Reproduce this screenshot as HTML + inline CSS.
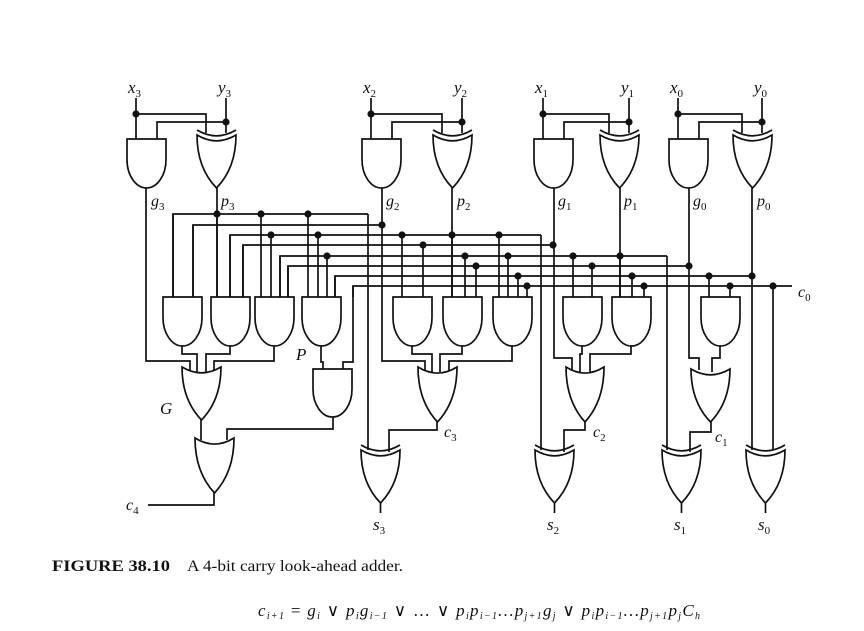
<!DOCTYPE html>
<html><head><meta charset="utf-8"><style>
html,body{margin:0;padding:0;background:#fff;}
svg{display:block;}
text{font-family:"Liberation Serif",serif;fill:#111;}
.it{font-style:italic;}
</style></head><body>
<svg id="c" width="864" height="631" viewBox="0 0 864 631" xmlns="http://www.w3.org/2000/svg">
<g id="wires" fill="none" stroke="#111" stroke-width="1.7"></g>
<g id="gates" fill="#fff" stroke="#111" stroke-width="1.7"></g>
<g id="dots" fill="#111"></g>
<g id="labels"></g>
<text x="52" y="571" font-size="16" font-weight="bold" textLength="118" lengthAdjust="spacingAndGlyphs">FIGURE 38.10</text>
<text x="187" y="571" font-size="16" textLength="216" lengthAdjust="spacingAndGlyphs">A 4-bit carry look-ahead adder.</text>
<text x="258" y="616" font-size="17" class="it" textLength="442" lengthAdjust="spacing">c<tspan font-size="10" dy="3">i+1</tspan><tspan dy="-3" font-style="normal"> = </tspan> g<tspan font-size="10" dy="3">i</tspan><tspan dy="-3" font-style="normal"> ∨ </tspan>p<tspan font-size="10" dy="3">i</tspan><tspan dy="-3">g</tspan><tspan font-size="10" dy="3">i−1</tspan><tspan dy="-3" font-style="normal"> ∨ … ∨ </tspan>p<tspan font-size="10" dy="3">i</tspan><tspan dy="-3">p</tspan><tspan font-size="10" dy="3">i−1</tspan><tspan dy="-3">…p</tspan><tspan font-size="10" dy="3">j+1</tspan><tspan dy="-3">g</tspan><tspan font-size="10" dy="3">j</tspan><tspan dy="-3" font-style="normal"> ∨ </tspan>p<tspan font-size="10" dy="3">i</tspan><tspan dy="-3">p</tspan><tspan font-size="10" dy="3">i−1</tspan><tspan dy="-3">…p</tspan><tspan font-size="10" dy="3">j+1</tspan><tspan dy="-3">p</tspan><tspan font-size="10" dy="3">j</tspan><tspan dy="-3">C</tspan><tspan font-size="10" dy="3">h</tspan></text>
</svg>
<script>
const NS="http://www.w3.org/2000/svg";
const W=document.getElementById('wires'),G=document.getElementById('gates'),D=document.getElementById('dots'),L=document.getElementById('labels');
// bit columns: [andLeft, xorLeft]
const bits=[[127,197],[362,433],[534,600],[669,733]];
const bitNames=['3','2','1','0'];
// bus rows: y, xStart, xEnd, dot x list
const rowY=[214,225,235,245,256,266,276,286];
const rowStart=[173,193,230,243,280,288,335,353];
const rowEnd=[368,382,541,553,667,689,752,792];
const rowDots=[[217,261,308],[382],[271,318,402,452,499],[423,553],[327,465,508,573,620],[476,592,689],[518,632,709,752],[527,644,730,773]];
// second-row AND gates: left x, input drops [x,fromY]
const and2Left=[163,211,255,302,393,443,493,563,612,701];
const and2In=[[[173,214],[193,225]],[[217,214],[230,235],[243,245]],[[261,214],[271,235],[280,256],[288,266]],[[308,214],[318,235],[327,256],[335,276]],[[402,235],[423,245]],[[452,235],[465,256],[476,266]],[[499,235],[508,256],[518,276],[527,286]],[[573,256],[592,266]],[[620,256],[632,276],[644,286]],[[709,276],[730,286]]];
function path(par,d,name){const p=document.createElementNS(NS,'path');p.setAttribute('d',d);


par.appendChild(p);return p;}
function andG(x,y,w,h,name){const hh=h*0.42;path(G,`M${x},${y}H${x+w}V${y+hh}A${w/2},${h-hh} 0 0 1 ${x},${y+hh}Z`,name);}
function orG(x,y,w,h,name){const c=x+w/2;path(G,`M${x},${y}Q${c},${y+h*0.22} ${x+w},${y}Q${x+w},${y+h*0.62} ${c},${y+h}Q${x},${y+h*0.62} ${x},${y}Z`,name);}
function xorG(x,y,w,h,name){orG(x,y,w,h,name);const c=x+w/2;path(W,`M${x},${y-5}Q${c},${y+h*0.22-5} ${x+w},${y-5}`,name+'-arc');}
function dot(x,y){const c=document.createElementNS(NS,'circle');c.setAttribute('cx',x);c.setAttribute('cy',y);c.setAttribute('r',3.6);


D.appendChild(c);}
function txt(x,y,s,sub,name,size){const t=document.createElementNS(NS,'text');t.setAttribute('x',x);t.setAttribute('y',y);t.setAttribute('class','it');t.setAttribute('font-size',size||17);


t.textContent=s;if(sub!==''){const ts=document.createElementNS(NS,'tspan');ts.setAttribute('font-size',11);ts.setAttribute('dy',4);ts.setAttribute('font-style','normal');ts.textContent=sub;t.appendChild(ts);}L.appendChild(t);}
// top gates
bits.forEach((b,i)=>{const [a,xo]=b,n=bitNames[i];
 const xIn=a+9,yIn=xo+29,ga=a+20,px=xo+20;
 path(W,`M${xIn},98V139M${xIn},114H${xo+9}V133`,'x'+n+'-wire');
 path(W,`M${yIn},98V133M${yIn},122H${a+30}V139`,'y'+n+'-wire');
 dot(xIn,114);dot(yIn,122);
 andG(a,139,39,49,'g'+n+'-and-gate');xorG(xo,135,39,53,'p'+n+'-xor-gate');
 txt(xIn-8,93,'x',n,'x'+n+'-label');txt(yIn-8,93,'y',n,'y'+n+'-label');
 txt(ga+4,206,'g',n,'g'+n+'-label',16);txt(px+4,206,'p',n,'p'+n+'-label',16);
});
// g and p verticals
path(W,'M146,188V361H190V370','g3-wire');
path(W,'M217,188V297','p3-wire');
path(W,'M382,188V361H425V370','g2-wire');
path(W,'M452,188V297','p2-wire');
path(W,'M554,188V358H572V370','g1-wire');
path(W,'M620,188V297','p1-wire');
path(W,'M689,188V358H699V370','g0-wire');
path(W,'M752,188V450','p0-wire');
// rows
rowY.forEach((y,i)=>{path(W,`M${rowStart[i]},297V${y}H${rowEnd[i]}`,'bus-row-'+i);rowDots[i].forEach(x=>dot(x,y));});
// long drops
path(W,'M368,214V450','p3-to-s3');path(W,'M541,235V450','p2-to-s2');path(W,'M667,256V450','p1-to-s1');path(W,'M773,286V450','c0-to-s0');
path(W,'M353,286V362H343V370','c0-to-P');
// second row gates
and2Left.forEach((x,i)=>{and2In[i].forEach(([ix,fy])=>path(W,`M${ix},${fy}V297`,'gate-input'));andG(x,297,39,49,'product-and-gate-'+(i+1));});
// outputs second row -> third
const outs=[[182,354,197],[230,354,206],[274,361,214],[321,362,323],[412,354,432],[462,354,440],[512,361,449],[582,354,580],[631,354,590],[720,358,712]];
outs.forEach(([cx,yy,tx])=>path(W,`M${cx},346V${yy}H${tx}V372`,'product-wire'));
// third row
orG(182,367,39,53,'G-or-gate');andG(313,369,39,48,'P-and-gate');
orG(418,367,39,55,'c3-or-gate');orG(566,367,38,55,'c2-or-gate');orG(691,369,39,53,'c1-or-gate');
// final
path(W,'M201,420V440','G-out');path(W,'M333,417V429H227V440','P-out');
orG(195,438,39,55,'c4-or-gate');path(W,'M214,493V505H148','c4-wire');
path(W,'M437,422V430H389V452','c3-wire');path(W,'M585,422V430H564V452','c2-wire');path(W,'M711,422V432H690V452','c1-wire');
const sx=[361,535,662,746],sn=['3','2','1','0'];
sx.forEach((x,i)=>{xorG(x,450,39,53,'s'+sn[i]+'-xor-gate');path(W,`M${x+19.5},503V513`,'s'+sn[i]+'-out');txt(x+12,530,'s',sn[i],'s'+sn[i]+'-label');});
txt(160,414,'G','','G-label');txt(296,360,'P','','P-label');
txt(444,437,'c','3','c3-label',16);txt(593,437,'c','2','c2-label',16);txt(715,442,'c','1','c1-label',16);
txt(126,510,'c','4','c4-label',16);txt(798,297,'c','0','c0-label',16);
</script>
</body></html>
